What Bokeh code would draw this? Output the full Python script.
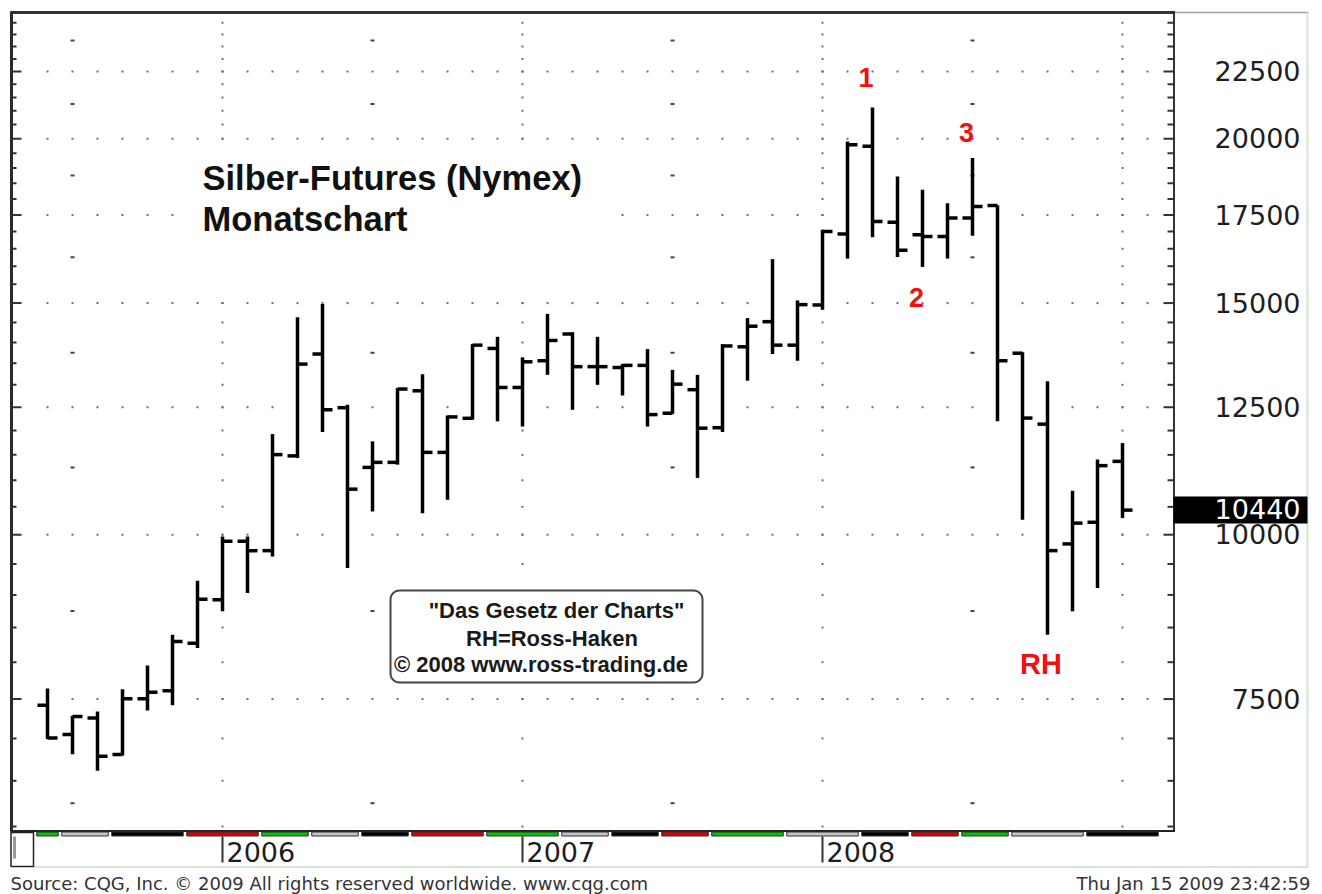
import numpy as np
from bokeh.plotting import figure
from bokeh.models import Range1d, LinearScale, ColumnDataSource
from bokeh.core.properties import value
from bokeh.embed import file_html
from bokeh.resources import INLINE

# ---------------- data ----------------
months = ["2005-06", "2005-07", "2005-08", "2005-09", "2005-10", "2005-11", "2005-12",
          "2006-01", "2006-02", "2006-03", "2006-04", "2006-05", "2006-06", "2006-07",
          "2006-08", "2006-09", "2006-10", "2006-11", "2006-12",
          "2007-01", "2007-02", "2007-03", "2007-04", "2007-05", "2007-06", "2007-07",
          "2007-08", "2007-09", "2007-10", "2007-11", "2007-12",
          "2008-01", "2008-02", "2008-03", "2008-04", "2008-05", "2008-06", "2008-07",
          "2008-08", "2008-09", "2008-10", "2008-11", "2008-12", "2009-01"]
opens = [7420, 7050, 7255, 6805, 7505, 7610, 8270, 8925, 9885, 9725, 11480, 13720, 12490,
         11250, 11350, 12865, 11550, 12260, 13855, 12940, 13560, 14210, 13420, 13400, 13450,
         12370, 12890, 12060, 13895, 14520, 13935, 14950, 16925, 19735, 17280, 16905, 16855,
         17405, 17795, 13740, 12135, 9840, 10220, 11370]
highs = [7640, 7285, 7340, 7630, 7955, 8395, 9225, 9970, 9970, 11925, 14635, 14975, 12555,
         11775, 12925, 13245, 12320, 13960, 14140, 13640, 14720, 14255, 14140, 13480, 13840,
         13345, 13230, 13960, 14610, 16200, 15070, 17055, 19905, 21120, 18720, 18290, 17865,
         19335, 17800, 13760, 13080, 10800, 11405, 11740]
lows = [6995, 6810, 6615, 6795, 7350, 7420, 8200, 8745, 9030, 9625, 11435, 11970, 9435,
        10415, 11305, 10385, 10630, 12230, 12195, 12085, 13230, 12445, 13000, 12760, 12085,
        12355, 11045, 11970, 13095, 13720, 13560, 14825, 16215, 16830, 16260, 15980, 16215,
        16875, 12195, 10265, 8395, 8745, 9110, 10295]
closes = [7005, 7275, 6785, 7505, 7590, 8295, 8930, 9885, 9725, 11505, 13480, 12445, 10830,
          11350, 12905, 11550, 12290, 13935, 12940, 13535, 14050, 13420, 13420, 13450, 12340,
          13015, 12050, 13915, 14405, 13935, 14960, 17005, 19790, 17300, 16455, 16855, 17405,
          17765, 13560, 12265, 9725, 10205, 11285, 10440]

major_ticks = [7500, 10000, 12500, 15000, 17500, 20000, 22500]
minor_ticks = list(range(6000, 25000, 500))
half_ticks = [6250, 8750, 11250, 13750, 16250, 18750, 21250, 23750]

strip_start = [0, 1, 3, 6, 9, 11, 13, 15, 18, 21, 23, 25, 27, 30, 33, 35, 37, 39, 42]
strip_end = [0, 2, 5, 8, 10, 12, 14, 17, 20, 22, 24, 26, 29, 32, 34, 36, 38, 41, 44]
strip_cycle = ["#00c400", "#c4c4c4", "#000000", "#d80000"]
strip_color = [strip_cycle[i % 4] for i in range(len(strip_start))]

title_lines = ["Silber-Futures (Nymex)", "Monatschart"]
box_lines = ['"Das Gesetz der Charts"', "RH=Ross-Haken", "\u00a9 2008 www.ross-trading.de"]
marks_digits = ["1", "2", "3"]
mark_rh = "RH"
footer_left = "Source: CQG, Inc. \u00a9 2009 All rights reserved worldwide. www.cqg.com"
footer_right = "Thu Jan 15 2009 23:42:59"

# ---------------- figure ----------------
W, H = 1322, 894
p = figure(width=W, height=H,
           x_range=Range1d(-1.88, 51.0),
           y_range=Range1d(5327, 25475),
           y_axis_type="log",
           x_axis_location=None, y_axis_location=None,
           toolbar_location=None, output_backend="svg",
           min_border=0, outline_line_color=None,
           background_fill_color="white", border_fill_color="white")
p.extra_x_ranges = {"px": Range1d(0, W)}
p.extra_y_ranges = {"px": Range1d(H, 0)}
p.extra_x_scales = {"px": LinearScale()}
p.extra_y_scales = {"px": LinearScale()}
p.xgrid.visible = False
p.ygrid.visible = False

idx = np.arange(len(months))
year_k = [i for i, m in enumerate(months) if m.endswith("-01")]
mid_k = [i for i, m in enumerate(months) if m.endswith("-07")]
label_k = [k for k in year_k if k + 3 < len(months)]

# ---- grid dots ----
gk, gv = np.meshgrid(np.arange(0, len(months) + 1), major_ticks)
p.scatter(gk.ravel(), gv.ravel(), marker="square", size=2,
          fill_color="#6e6e6e", line_color=None)
vk, vv = np.meshgrid(year_k, minor_ticks)
p.scatter(vk.ravel(), vv.ravel(), marker="square", size=2,
          fill_color="#6e6e6e", line_color=None)
mk, mv = np.meshgrid(mid_k, half_ticks)
p.scatter(mk.ravel(), mv.ravel(), marker="dash", size=4, line_width=2,
          line_color="#444444")

# ---- white area behind title ----
p.quad(left=186, right=612, top=146, bottom=296, fill_color="white", line_color=None,
       x_range_name="px", y_range_name="px")


def rounded_rect(x0, y0, x1, y1, r, n=10):
    xs, ys = [], []
    corners = [(x1 - r, y0 + r, -90, 0), (x1 - r, y1 - r, 0, 90),
               (x0 + r, y1 - r, 90, 180), (x0 + r, y0 + r, 180, 270)]
    for cx, cy, a0, a1 in corners:
        for a in np.radians(np.linspace(a0, a1, n)):
            xs.append(cx + r * np.cos(a))
            ys.append(cy + r * np.sin(a))
    return xs, ys


bx, by = rounded_rect(390, 590, 702, 682, 9)
p.patch(bx, by, fill_color="white", line_color="#444444", line_width=2,
        x_range_name="px", y_range_name="px")

# ---- OHLC bars ----
src = ColumnDataSource(dict(x=idx, xl=idx - 0.4, xr=idx + 0.4,
                            o=opens, h=highs, l=lows, c=closes))
bar_kw = dict(source=src, line_color="black", line_width=3.5)
p.segment(x0="x", y0="l", x1="x", y1="h", **bar_kw)
p.segment(x0="xl", y0="o", x1="x", y1="o", **bar_kw)
p.segment(x0="x", y0="c", x1="xr", y1="c", **bar_kw)

# ---- frame borders ----
px = dict(x_range_name="px", y_range_name="px")
p.segment(x0=[1174], y0=[12], x1=[1308], y1=[12], line_color="#a0a0a0", line_width=1.5, **px)
p.segment(x0=[1307], y0=[12], x1=[1307], y1=[867], line_color="#d2e6d2", line_width=2, **px)
p.segment(x0=[33], y0=[866.5], x1=[1308], y1=[866.5], line_color="#d2e6d2", line_width=2, **px)
p.segment(x0=[11], y0=[11], x1=[11], y1=[831], line_color="#2a2a2a", line_width=3, **px)
p.segment(x0=[10], y0=[12], x1=[1174.5], y1=[12], line_color="#333333", line_width=3, **px)
p.segment(x0=[1173.5], y0=[12], x1=[1173.5], y1=[831], line_color="#333333", line_width=2, **px)
p.segment(x0=[10], y0=[830.5], x1=[1174.5], y1=[830.5], line_color="#222222", line_width=2, **px)

# ---- axis ticks (left and right, inward) ----
minor_only = [v for v in minor_ticks if v not in major_ticks]
n_maj, n_min = len(major_ticks), len(minor_only)
p.segment(x0=[11] * n_maj, x1=[21] * n_maj, y0=major_ticks, y1=major_ticks,
          line_color="#333333", line_width=2, x_range_name="px")
p.segment(x0=[11] * n_min, x1=[16] * n_min, y0=minor_only, y1=minor_only,
          line_color="#333333", line_width=2, x_range_name="px")
p.segment(x0=[1163] * n_maj, x1=[1173] * n_maj, y0=major_ticks, y1=major_ticks,
          line_color="#333333", line_width=2, x_range_name="px")
p.segment(x0=[1167] * n_min, x1=[1173] * n_min, y0=minor_only, y1=minor_only,
          line_color="#333333", line_width=2, x_range_name="px")

# ---- right axis labels ----
p.text(x=[1300] * n_maj, y=major_ticks, text=[str(v) for v in major_ticks],
       text_align="right", text_baseline="middle", y_offset=-0.5,
       text_font=value("DejaVu Sans"), text_font_size="27px", text_color="#1e1e1e",
       x_range_name="px")

# last price box
p.rect(x=[1240], y=[closes[-1]], width=134, height=27, height_units="screen",
       fill_color="black", line_color=None, x_range_name="px")
p.text(x=[1300], y=[closes[-1]], text=[str(closes[-1])], text_align="right",
       text_baseline="middle", y_offset=-1.5, text_font=value("DejaVu Sans"),
       text_font_size="27px", text_color="white", x_range_name="px")

# ---- bottom strip ----
p.quad(left=[s - 0.5 + 0.07 for s in strip_start], right=[e + 0.5 - 0.07 for e in strip_end],
       top=831.5, bottom=835.5, fill_color=strip_color, line_color="#333333",
       line_width=1, y_range_name="px")

# bottom-left small box
p.quad(left=10.5, right=33, top=832, bottom=866, fill_color="white",
       line_color="#222222", line_width=1.5, **px)
p.quad(left=12.5, right=15.5, top=836, bottom=858, fill_color="#9a9a9a",
       line_color=None, **px)

# year markers
p.segment(x0=label_k, x1=label_k, y0=[836] * len(label_k), y1=[862] * len(label_k),
          line_color="#333333", line_width=2, y_range_name="px")
p.text(x=[k + 0.16 for k in label_k], y=[851] * len(label_k),
       text=[months[k][:4] for k in label_k], text_align="left",
       text_baseline="middle", text_font=value("DejaVu Sans"),
       text_font_size="27px", text_color="#1e1e1e", y_range_name="px")

# ---- texts ----
p.text(x=[202, 202], y=[177, 218], text=title_lines, text_align="left",
       text_baseline="middle", text_font=value("Liberation Sans"),
       text_font_style="bold", text_font_size="34.5px", text_color="#111111", **px)

p.text(x=[556, 551.5, 540.5], y=[610, 638, 664], text=box_lines,
       text_align="center", text_baseline="middle",
       text_font=value("Liberation Sans"), text_font_style="bold",
       text_font_size="22px", text_color="#1a1a1a", **px)

p.text(x=[865.5, 916, 966], y=[76.5, 297, 131.5], text=marks_digits,
       text_align="center", text_baseline="middle",
       text_font=value("Liberation Sans"), text_font_style="bold",
       text_font_size="27px", text_color="#f01010", **px)
p.text(x=[1040.5], y=[663.5], text=[mark_rh], text_align="center",
       text_baseline="middle", text_font=value("Liberation Sans"),
       text_font_style="bold", text_font_size="29px", text_color="#f01010", **px)

p.text(x=[10], y=[883], text=[footer_left], text_align="left", text_baseline="middle",
       text_font=value("DejaVu Sans"), text_font_size="18px", text_color="#333333", **px)
p.text(x=[1310], y=[883], text=[footer_right], text_align="right",
       text_baseline="middle", text_font=value("DejaVu Sans"),
       text_font_size="18px", text_color="#333333", **px)

open("out.html", "w").write(file_html(p, INLINE))
